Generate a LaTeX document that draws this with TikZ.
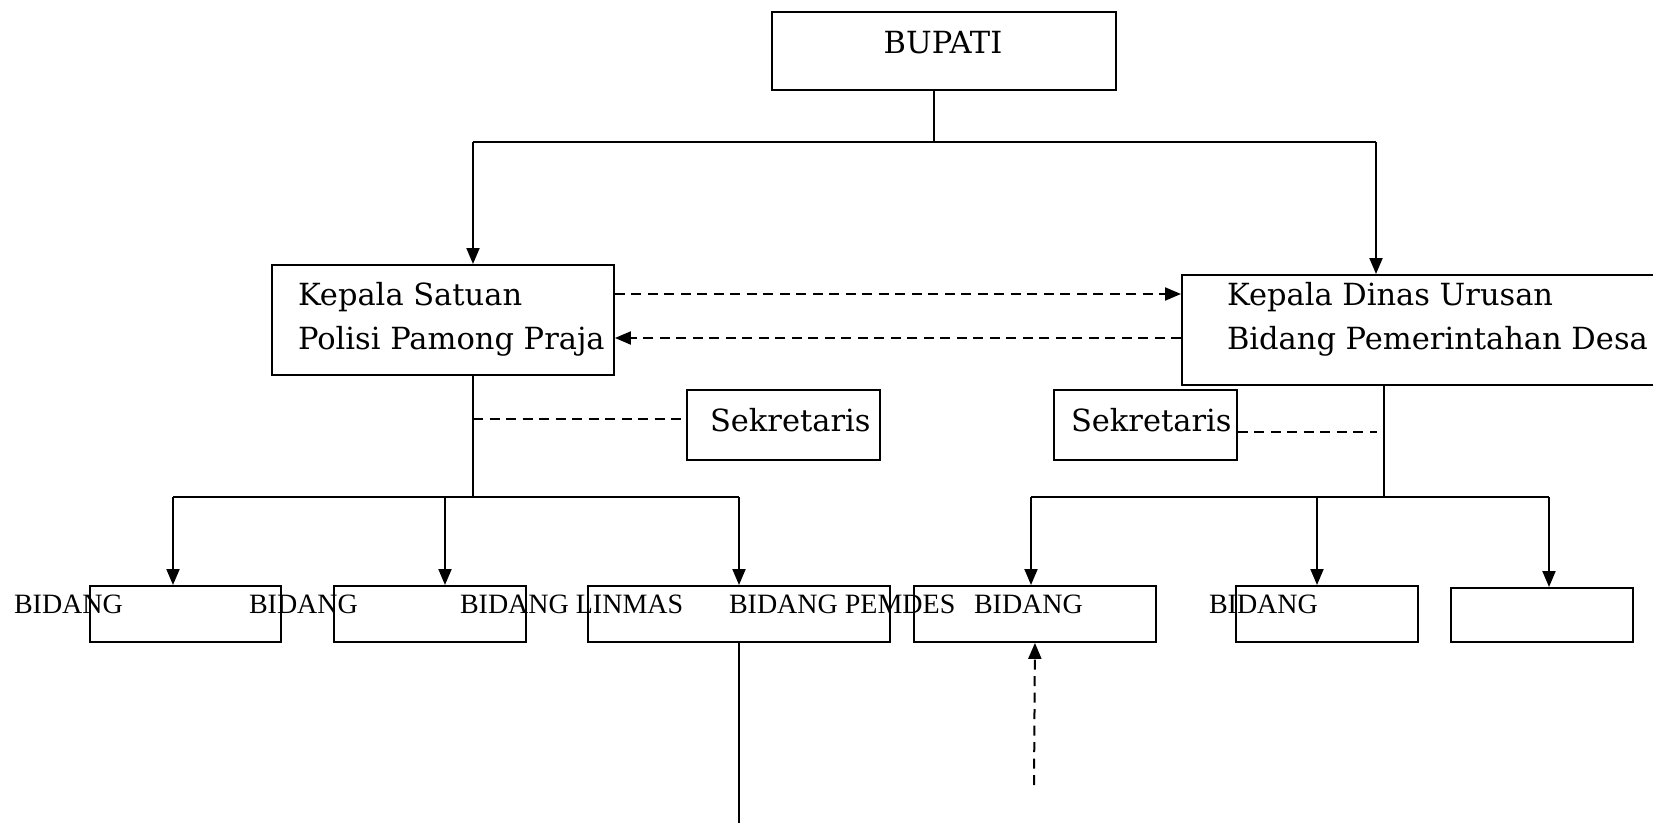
\documentclass[tikz,border=0pt]{standalone}
\usepackage{fontspec}
\setmainfont{DejaVu Serif}
\newfontfamily\bidfont{Liberation Serif}
\usetikzlibrary{arrows.meta,positioning}

\begin{document}
\begin{tikzpicture}[x=1pt,y=-1pt,line width=2pt,>={Triangle[length=16pt,width=13pt]},
  frame/.style={draw,line width=1.9pt,inner sep=0pt,anchor=north west},
  txt/.style={font=\fontsize{30.5}{44}\selectfont,align=left,inner sep=0pt},
  bid/.style={font=\bidfont\fontsize{28}{30}\selectfont,inner sep=0pt,anchor=west},
  dashline/.style={dash pattern=on 10pt off 6.5pt}]
\useasboundingbox (0,0) rectangle (1653,822);
\clip (0,0) rectangle (1653,822);
% boxes
\node[frame,minimum width=344pt,minimum height=78pt] (bupati) at (771,11) {};
\node[frame,minimum width=342pt,minimum height=110pt] (kasat) at (271,264) {};
\node[frame,minimum width=500pt,minimum height=110pt] (kadin) at (1181,274) {};
\node[frame,minimum width=193pt,minimum height=70pt] (sekl) at (686,389) {};
\node[frame,minimum width=183pt,minimum height=70pt] (sekr) at (1053,389) {};
\node[frame,minimum width=191pt,minimum height=56pt] (b1) at (89,585) {};
\node[frame,minimum width=192pt,minimum height=56pt] (b2) at (333,585) {};
\node[frame,minimum width=302pt,minimum height=56pt] (b3) at (587,585) {};
\node[frame,minimum width=242pt,minimum height=56pt] (b4) at (913,585) {};
\node[frame,minimum width=182pt,minimum height=56pt] (b5) at (1235,585) {};
\node[frame,minimum width=182pt,minimum height=54pt] (b6) at (1450,587) {};
% texts
\node[txt] (tbup) at (943,43) {BUPATI};
\node[txt,anchor=west] (tkasat) at (297,319) {Kepala Satuan\\Polisi Pamong Praja};
\node[txt,anchor=west] (tkadin) at (1226,319) {Kepala Dinas Urusan\\Bidang Pemerintahan Desa};
\node[txt,anchor=west] (tsekl) at (709,420) {Sekretaris};
\node[txt,anchor=west] (tsekr) at (1070,420) {Sekretaris};
\node[bid] (t1) at (13,604) {BIDANG};
\node[bid] (t2) at (248,604) {BIDANG};
\node[bid] (t3) at (459,604) {BIDANG LINMAS};
\node[bid] (t4) at (728,604) {BIDANG PEMDES};
\node[bid] (t5) at (973,604) {BIDANG};
\node[bid] (t6) at (1208,604) {BIDANG};
% connectors
\coordinate (hl) at (473,142);
\coordinate (hr) at (1376,142);
\draw ([xshift=-10pt]bupati.south) -- ([xshift=-10pt]bupati.south |- hl);
\draw (hl) -- (hr);
\draw[->] (hl) -- (hl |- kasat.north);
\draw[->] (hr) -- (hr |- kadin.north);
\draw[dashline,->] (kasat.east |- 0,294) -- (kadin.west |- 0,294);
\draw[dashline,->] (kadin.west |- 0,338) -- (kasat.east |- 0,338);
% left branch
\coordinate (l1) at (173,497);
\coordinate (l2) at (445,497);
\coordinate (l3) at (739,497);
\draw (hl |- kasat.south) -- (hl |- l1);
\draw[dashline] (hl |- 0,419) -- (sekl.west |- 0,419);
\draw (l1) -- (l3);
\draw[->] (l1) -- (l1 |- b1.north);
\draw[->] (l2) -- (l2 |- b2.north);
\draw[->] (l3) -- (l3 |- b3.north);
\draw (b3.south) -- ++(0,190);
% right branch
\coordinate (r1) at (1031,497);
\coordinate (r2) at (1317,497);
\coordinate (r3) at (1549,497);
\coordinate (rs) at (1384,497);
\draw (rs |- kadin.south) -- (rs);
\draw[dashline] (sekr.east |- 0,432) -- ([xshift=-7pt]rs |- 0,432);
\draw (r1) -- (r3);
\draw[->] (r1) -- (r1 |- b4.north);
\draw[->] (r2) -- (r2 |- b5.north);
\draw[->] (r3) -- (r3 |- b6.north);
\coordinate (src) at (1034,785);
\draw[dashline,->] (src) -- (b4.south);
\end{tikzpicture}
\end{document}
